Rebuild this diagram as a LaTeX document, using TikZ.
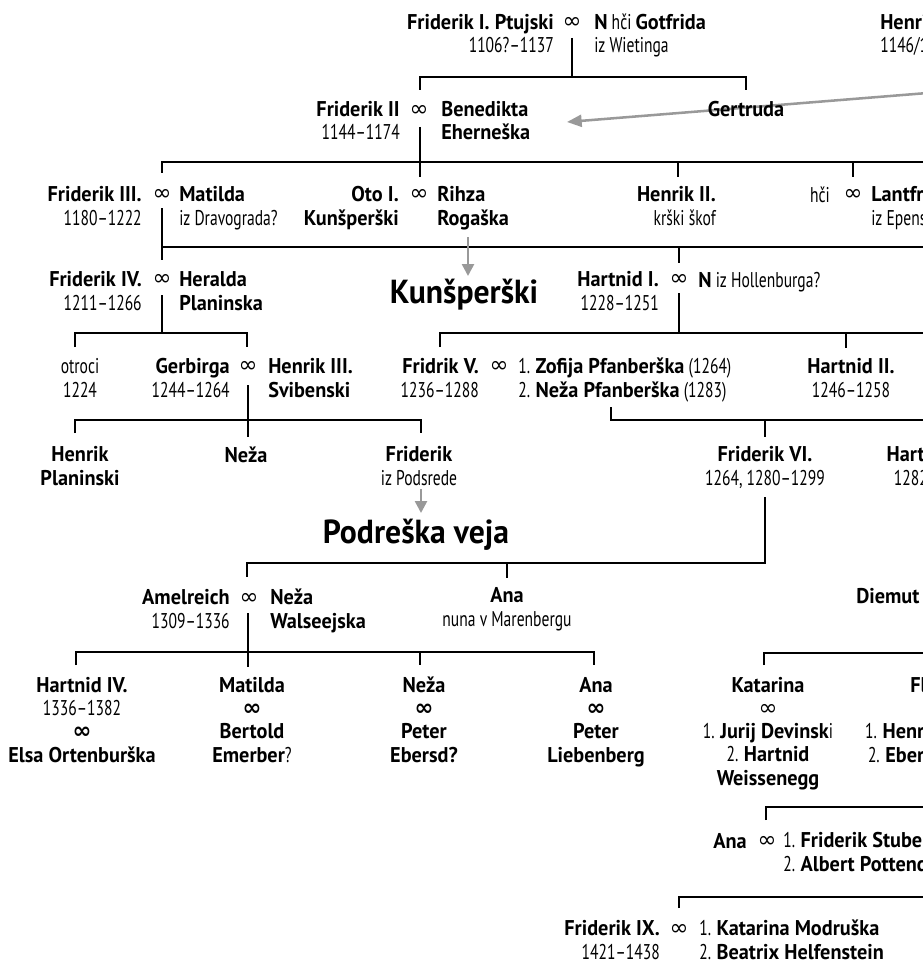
\documentclass[tikz,border=0pt]{standalone}
\usepackage{fontspec}
\setmainfont{PT Sans}[UprightFeatures={FakeStretch=0.73}, BoldFeatures={FakeStretch=0.95}]
\newfontfamily\symbolfont{DejaVu Sans}
\usetikzlibrary{arrows.meta, positioning}

\newcommand{\poroka}{{\symbolfont\fontsize{17}{17.3}\selectfont ∞}}

\begin{document}
\begin{tikzpicture}[x=0.75pt, y=-0.75pt,
  every node/.style={inner sep=0pt, font=\fontsize{16}{17.3}\selectfont},
  nm/.style={font=\fontsize{16}{17.3}\selectfont\bfseries},
  ttl/.style={font=\fontsize{25}{30}\selectfont\bfseries},
  marr/.style={font=\symbolfont\fontsize{17}{17}\selectfont},
  tree/.style={line width=2.2pt, line join=miter},
  link/.style={draw=black!40, line width=1.9pt, -{Triangle[length=11pt, width=9pt]}},
  down/.style={draw=black!40, line width=1.9pt, -{Triangle[length=9pt, width=9pt]}}]
\useasboundingbox (0,0) rectangle (923,963);
\clip (0,0) rectangle (923,963);

% grey links between branches
\coordinate (offr) at (940,92);
\coordinate (benr) at (567,122);
\draw[link] (offr) -- (benr);

% generation 1
\node[nm, anchor=base east, align=right] (fr1) at (554,53) {Friderik I. Ptujski\\\textmd{1106?--1137}};
\node[marr] (m1) at (572,23) {∞};
\node[anchor=base west, align=left] (got) at (594,53) {\textbf{N} hči \textbf{Gotfrida}\\iz Wietinga};
\node[nm, anchor=base west, align=left] (hen1) at (880,53) {Henrik\\\textmd{1146/1180}};

\draw[tree] (572,38) -- (572,77);
\draw[tree] (420,90) -- (420,77) -- (746,77) -- (746,90);

% generation 2
\node[nm, anchor=base east, align=right] (fr2) at (400,140) {Friderik II\\\textmd{1144--1174}};
\node[marr] (m2) at (419,111) {∞};
\node[nm, anchor=base west, align=left] (ben) at (441,140) {Benedikta\\Eherneška};
\node[nm, anchor=base] (ger) at (746,117) {Gertruda};

\draw[tree] (420,127) -- (420,177);
\draw[tree] (162,173) -- (162,162) -- (930,162);
\draw[tree] (678,162) -- (678,177);
\draw[tree] (853,162) -- (853,177);

% generation 3
\node[nm, anchor=base east, align=right] (fr3) at (142,225) {Friderik III.\\\textmd{1180--1222}};
\node[marr] (m3) at (162,195) {∞};
\node[anchor=base west, align=left] (mat) at (179,225) {\textbf{Matilda}\\iz Dravograda?};
\node[nm, anchor=base east, align=right] (oto) at (399,225) {Oto I.\\Kunšperški};
\node[marr] (m4) at (419,195) {∞};
\node[nm, anchor=base west, align=left] (rih) at (437,225) {Rihza\\Rogaška};
\node[anchor=base east, align=right] (hen2) at (716,225) {\textbf{Henrik II.}\\krški škof};
\node[anchor=base east] (hci) at (830,202) {hči};
\node[marr] (m5) at (853,195) {∞};
\node[anchor=base west, align=left] (lan) at (871,225) {\textbf{Lantfrid}\\iz Epensteina};

\draw[tree] (162,208) -- (162,260);
\draw[tree] (162,247) -- (930,247);
\draw[tree] (679,247) -- (679,263);
\draw[down] (468,237) -- (468,276);

% generation 4
\node[nm, anchor=base east, align=right] (fr4) at (142,310) {Friderik IV.\\\textmd{1211--1266}};
\node[marr] (m6) at (162,280) {∞};
\node[nm, anchor=base west, align=left] (her) at (179,310) {Heralda\\Planinska};
\node[ttl, anchor=base] (kun) at (464,303) {Kunšperški};
\node[nm, anchor=base east, align=right] (har1) at (659,310) {Hartnid I.\\\textmd{1228--1251}};
\node[marr] (m7) at (679,280) {∞};
\node[anchor=base west] (hol) at (698,287) {\textbf{N} iz Hollenburga?};

\draw[tree] (162,295) -- (162,333);
\draw[tree] (75,347) -- (75,333) -- (247,333) -- (247,347);
\draw[tree] (679,293) -- (679,333);
\draw[tree] (440,347) -- (440,333) -- (930,333);
\draw[tree] (846,333) -- (846,348);

% generation 5
\node[anchor=base, align=center] (otr) at (80,397) {otroci\\1224};
\node[nm, anchor=base east, align=right] (ger2) at (230,397) {Gerbirga\\\textmd{1244--1264}};
\node[marr] (m8) at (248,367) {∞};
\node[nm, anchor=base west, align=left] (hen3) at (268,397) {Henrik III.\\Svibenski};
\node[nm, anchor=base east, align=right] (fr5) at (479,397) {Fridrik V.\\\textmd{1236--1288}};
\node[marr] (m9) at (499,367) {∞};
\node[anchor=base west, align=left] (pfa) at (518,397) {1. \textbf{Zofija Pfanberška} (1264)\\2. \textbf{Neža Pfanberška} (1283)};
\node[nm, anchor=base, align=center] (har2) at (851,397) {Hartnid II.\\\textmd{1246--1258}};

\draw[tree] (248,385) -- (248,437);
\draw[tree] (75,433) -- (75,420) -- (421,420) -- (421,433);
\draw[tree] (611,407) -- (611,420) -- (930,420);
\draw[tree] (765,420) -- (765,437);

% generation 6
\node[nm, anchor=base, align=center] (hen4) at (80,485) {Henrik\\Planinski};
\node[nm, anchor=base] (nez1) at (246,462) {Neža};
\node[nm, anchor=base, align=center] (fr7) at (419,485) {Friderik\\\textmd{iz Podsrede}};
\node[nm, anchor=base, align=center] (fr6) at (765,485) {Friderik VI.\\\textmd{1264, 1280--1299}};
\node[nm, anchor=base, align=center] (har3) at (933,485) {Hartnid III.\\\textmd{1282--1300}};
\draw[down] (421,489) -- (421,513);
\node[ttl, anchor=base] (pod) at (416,543) {Podreška veja};

\draw[tree] (765,497) -- (765,563) -- (247,563) -- (247,577);
\draw[tree] (507,563) -- (507,578);

% generation 7
\node[nm, anchor=base east, align=right] (ame) at (230,628) {Amelreich\\\textmd{1309--1336}};
\node[marr] (m10) at (249,599) {∞};
\node[nm, anchor=base west, align=left] (nez2) at (270,628) {Neža\\Walseejska};
\node[anchor=base, align=center] (ana1) at (507,626) {\textbf{Ana}\\nuna v Marenbergu};
\node[nm, anchor=base west] (die) at (856,603) {Diemut};

\draw[tree] (248,613) -- (248,667);
\draw[tree] (76,665) -- (76,652) -- (594,652) -- (594,665);
\draw[tree] (420,652) -- (420,665);
\draw[tree] (764,665) -- (764,653) -- (930,653);

% generation 8
\node[nm, anchor=base, align=center] (har4) at (82,762) {Hartnid IV.\\\textmd{1336--1382}\\\poroka\\Elsa Ortenburška};
\node[nm, anchor=base, align=center] (mat2) at (252,762) {Matilda\\\poroka\\Bertold\\Emerber\textmd{?}};
\node[nm, anchor=base, align=center] (nez3) at (424,762) {Neža\\\poroka\\Peter\\Ebersd?};
\node[nm, anchor=base, align=center] (ana2) at (596,762) {Ana\\\poroka\\Peter\\Liebenberg};
\node[anchor=base, align=center] (kat) at (768,785) {\textbf{Katarina}\\\poroka\\1. \textbf{Jurij Devinsk}i\\2. \textbf{Hartnid}\\\textbf{Weissenegg}};
\node[anchor=base, align=center] (flo) at (955,762) {\textbf{Florentina}\\\poroka\\1. \textbf{Henrik Stubenberg}\\2. \textbf{Eberhard Pettauer}};

\draw[tree] (766,820) -- (766,807) -- (930,807);

% generation 9
\node[nm, anchor=base east] (ana3) at (747,848) {Ana};
\node[marr] (m11) at (767,842) {∞};
\node[anchor=base west, align=left] (stu) at (783,871) {1. \textbf{Friderik Stubenberg}\\2. \textbf{Albert Pottendorf}};

\draw[tree] (679,908) -- (679,897) -- (930,897);

% generation 10
\node[nm, anchor=base east, align=right] (fr9) at (660,959) {Friderik IX.\\\textmd{1421--1438}};
\node[marr] (m12) at (679,930) {∞};
\node[anchor=base west, align=left] (mod) at (699,959) {1. \textbf{Katarina Modruška}\\2. \textbf{Beatrix Helfenstein}};
\end{tikzpicture}
\end{document}
